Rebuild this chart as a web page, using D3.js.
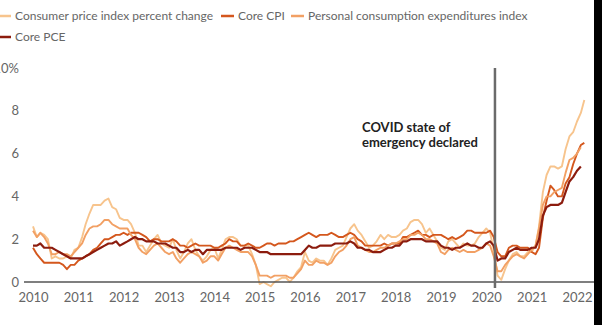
<!DOCTYPE html>
<html>
<head>
<meta charset="utf-8">
<script src="https://cdn.jsdelivr.net/npm/d3@7"></script>
<style>
  html, body { margin: 0; padding: 0; background: #fff; }
  svg { display: block; font-family: "Lato", "Open Sans", sans-serif; }
</style>
</head>
<body>
<div id="chart"></div>
<script>
// Year-over-year percent change, monthly from Jan 2010
const startMonth = "2010-01"

const cpi = [
  2.6, 2.1, 2.3, 2.2, 2.0, 1.1, 1.2, 1.1, 1.1, 1.2, 1.1, 1.5,
  1.6, 2.1, 2.7, 3.2, 3.6, 3.6, 3.6, 3.8, 3.9, 3.5, 3.4, 3.0,
  2.9, 2.9, 2.7, 2.3, 1.7, 1.7, 1.4, 1.7, 2.0, 2.2, 1.8, 1.7,
  1.6, 2.0, 1.5, 1.1, 1.4, 1.8, 2.0, 1.5, 1.2, 1.0, 1.2, 1.5,
  1.6, 1.1, 1.5, 2.0, 2.1, 2.1, 2.0, 1.7, 1.7, 1.7, 1.3, 0.8,
  -0.1, 0.0, -0.1, -0.2, 0.0, 0.1, 0.2, 0.2, 0.0, 0.2, 0.5, 0.7,
  1.4, 1.0, 0.9, 1.1, 1.0, 1.0, 0.8, 1.1, 1.5, 1.6, 1.7, 2.1,
  2.5, 2.7, 2.4, 2.2, 1.9, 1.6, 1.7, 1.9, 2.2, 2.0, 2.2, 2.1,
  2.1, 2.2, 2.4, 2.5, 2.8, 2.9, 2.9, 2.7, 2.3, 2.5, 2.2, 1.9,
  1.6, 1.5, 1.9, 2.0, 1.8, 1.6, 1.8, 1.7, 1.7, 1.8, 2.1, 2.3,
  2.5, 2.3, 1.5, 0.3, 0.1, 0.6, 1.0, 1.3, 1.4, 1.2, 1.2, 1.4,
  1.4, 1.7, 2.6, 4.2, 5.0, 5.4, 5.4, 5.3, 5.4, 6.2, 6.8, 7.0,
  7.5, 7.9, 8.5
]

const coreCpi = [
  1.6, 1.3, 1.1, 0.9, 0.9, 0.9, 0.9, 0.9, 0.8, 0.6, 0.8, 0.8,
  1.0, 1.1, 1.2, 1.3, 1.5, 1.6, 1.8, 2.0, 2.0, 2.1, 2.2, 2.2,
  2.3, 2.2, 2.3, 2.3, 2.3, 2.2, 2.1, 1.9, 2.0, 2.0, 1.9, 1.9,
  1.9, 2.0, 1.9, 1.7, 1.7, 1.6, 1.7, 1.8, 1.7, 1.7, 1.7, 1.7,
  1.6, 1.6, 1.7, 1.8, 2.0, 1.9, 1.9, 1.7, 1.7, 1.8, 1.7, 1.6,
  1.6, 1.7, 1.8, 1.8, 1.7, 1.8, 1.8, 1.8, 1.9, 1.9, 2.0, 2.1,
  2.2, 2.3, 2.2, 2.1, 2.2, 2.2, 2.2, 2.3, 2.2, 2.1, 2.1, 2.2,
  2.3, 2.2, 2.0, 1.9, 1.7, 1.7, 1.7, 1.7, 1.7, 1.8, 1.7, 1.8,
  1.8, 1.8, 2.1, 2.1, 2.2, 2.3, 2.4, 2.2, 2.2, 2.1, 2.2, 2.2,
  2.2, 2.1, 2.0, 2.1, 2.0, 2.1, 2.2, 2.4, 2.4, 2.3, 2.3, 2.3,
  2.3, 2.4, 2.1, 1.4, 1.2, 1.2, 1.6, 1.7, 1.7, 1.6, 1.6, 1.6,
  1.4, 1.3, 1.6, 3.0, 3.8, 4.5, 4.3, 4.0, 4.0, 4.6, 4.9, 5.5,
  6.0, 6.4, 6.5
]

const pce = [
  2.4, 2.1, 2.3, 2.1, 1.8, 1.3, 1.3, 1.4, 1.3, 1.3, 1.2, 1.4,
  1.6, 1.8, 2.2, 2.5, 2.6, 2.6, 2.7, 2.9, 2.9, 2.7, 2.6, 2.5,
  2.5, 2.5, 2.2, 2.0, 1.6, 1.4, 1.3, 1.5, 1.7, 1.8, 1.6, 1.4,
  1.3, 1.4, 1.1, 0.9, 1.1, 1.3, 1.4, 1.3, 1.2, 0.9, 1.0, 1.2,
  1.2, 1.0, 1.3, 1.6, 1.7, 1.6, 1.5, 1.4, 1.4, 1.4, 1.2, 0.8,
  0.3, 0.3, 0.3, 0.2, 0.3, 0.3, 0.3, 0.3, 0.2, 0.2, 0.4, 0.6,
  1.0, 0.8, 0.8, 1.0, 0.9, 0.9, 0.8, 0.9, 1.2, 1.4, 1.5, 1.7,
  2.0, 2.1, 1.7, 1.6, 1.5, 1.4, 1.4, 1.5, 1.6, 1.6, 1.7, 1.8,
  1.8, 1.9, 2.0, 2.0, 2.2, 2.2, 2.3, 2.2, 2.0, 2.0, 1.9, 1.8,
  1.4, 1.3, 1.5, 1.6, 1.5, 1.4, 1.5, 1.4, 1.4, 1.4, 1.5, 1.6,
  1.8, 1.7, 1.2, 0.5, 0.5, 0.8, 1.0, 1.2, 1.3, 1.2, 1.1, 1.3,
  1.5, 1.7, 2.5, 3.6, 4.0, 4.0, 4.2, 4.3, 4.4, 5.1, 5.7, 5.8,
  6.0, 6.3
]

const corePce = [
  1.7, 1.7, 1.8, 1.6, 1.6, 1.6, 1.5, 1.4, 1.3, 1.2, 1.1, 1.1,
  1.1, 1.1, 1.2, 1.3, 1.4, 1.5, 1.6, 1.7, 1.8, 1.8, 1.9, 1.7,
  1.8, 1.9, 2.0, 2.1, 2.0, 2.0, 1.9, 1.9, 1.9, 1.8, 1.8, 1.8,
  1.7, 1.6, 1.6, 1.4, 1.4, 1.5, 1.4, 1.5, 1.5, 1.3, 1.5, 1.5,
  1.5, 1.5, 1.5, 1.6, 1.6, 1.6, 1.6, 1.5, 1.6, 1.6, 1.6, 1.5,
  1.4, 1.4, 1.4, 1.3, 1.3, 1.3, 1.3, 1.3, 1.3, 1.3, 1.3, 1.3,
  1.5, 1.7, 1.6, 1.6, 1.7, 1.7, 1.7, 1.7, 1.8, 1.8, 1.8, 1.8,
  1.9, 1.8, 1.6, 1.6, 1.5, 1.5, 1.4, 1.4, 1.4, 1.5, 1.6, 1.6,
  1.7, 1.7, 1.9, 1.9, 2.0, 2.0, 2.0, 2.0, 1.9, 1.9, 1.9, 1.9,
  1.7, 1.6, 1.6, 1.5, 1.6, 1.6, 1.7, 1.8, 1.7, 1.7, 1.6, 1.6,
  1.8, 1.9, 1.7, 1.0, 1.1, 1.1, 1.4, 1.5, 1.6, 1.5, 1.5, 1.5,
  1.6, 1.6, 2.0, 3.1, 3.5, 3.6, 3.6, 3.6, 3.7, 4.2, 4.7, 4.9,
  5.2, 5.4
]

const seriesNames = ["Consumer price index percent change", "Core CPI", "Personal consumption expenditures index", "Core PCE"]
const seriesColors = ["#f7c48d", "#d4571d", "#f2a064", "#8c1c0e"]
const yTicks = [0, 2, 4, 6, 8, 10]
const xTickYears = d3.range(2010, 2023)
const covidDate = "2020-03-11"
const covidLabel = ["COVID state of", "emergency declared"]

const W = 602, H = 325
const svg = d3.select("#chart").append("svg").attr("width", W).attr("height", H)

const parseMonth = d3.timeParse("%Y-%m")
const start = parseMonth(startMonth)

const x = d3.scaleTime()
  .domain([new Date(2010, 0, 1), new Date(2022, 0, 1)])
  .range([33, 577])
const y = d3.scaleLinear().domain([0, 10]).range([282, 68])

// Grid lines
svg.append("g")
  .call(d3.axisLeft(y).tickValues(yTicks).tickSize(-570).tickFormat(""))
  .attr("transform", "translate(594,0)")
  .call(g => g.select(".domain").remove())
  .selectAll("line").attr("stroke", "#d0d0d0").attr("stroke-width", 1)

// Y labels (the "10%" runs off the left edge, as in the original)
svg.append("g")
  .selectAll("text")
  .data(yTicks)
  .join("text")
  .attr("x", 19)
  .attr("y", d => y(d))
  .attr("dy", "0.35em")
  .attr("text-anchor", "end")
  .attr("fill", "#666")
  .attr("font-size", 13)
  .text(d => d === 10 ? "10%" : d)

// X labels
svg.append("g")
  .attr("transform", "translate(0,290)")
  .call(d3.axisBottom(x)
    .tickValues(xTickYears.map(yr => new Date(yr, 0, 1)))
    .tickSize(0)
    .tickFormat(d3.timeFormat("%Y")))
  .call(g => g.select(".domain").remove())
  .selectAll("text")
  .attr("fill", "#666")
  .attr("font-size", 13)
  .attr("font-family", "Lato, 'Open Sans', sans-serif")

// Lines
const line = d3.line()
  .x((d, i) => x(d3.timeMonth.offset(start, i)))
  .y(d => y(d))

const allSeries = [cpi, coreCpi, pce, corePce]
allSeries.forEach((s, i) => {
  svg.append("path")
    .datum(s)
    .attr("fill", "none")
    .attr("stroke", seriesColors[i])
    .attr("stroke-width", i === 3 ? 2.2 : 1.9)
    .attr("stroke-linejoin", "round")
    .attr("d", line)
})

// Zero baseline
svg.append("line")
  .attr("x1", 24).attr("x2", 594)
  .attr("y1", y(0)).attr("y2", y(0))
  .attr("stroke", "#555").attr("stroke-width", 1.3)

// COVID marker
const cx = x(d3.isoParse(covidDate))
svg.append("line")
  .attr("x1", cx).attr("x2", cx)
  .attr("y1", y(10)).attr("y2", y(0) + 6)
  .attr("stroke", "#6b6b6b").attr("stroke-width", 2.5)

svg.append("g")
  .selectAll("text")
  .data(covidLabel)
  .join("text")
  .attr("x", 362)
  .attr("y", (d, i) => 132 + i * 15)
  .attr("font-size", 13)
  .attr("font-weight", "bold")
  .attr("fill", "#222")
  .text(d => d)

// Legend
const legendPos = [[0, 16], [223, 16], [293, 16], [0, 37]]
const legend = svg.append("g")
seriesNames.forEach((name, i) => {
  const [lx, ly] = legendPos[i]
  legend.append("line")
    .attr("x1", lx - 2).attr("x2", lx + 11)
    .attr("y1", ly).attr("y2", ly)
    .attr("stroke", seriesColors[i]).attr("stroke-width", 2.5)
  legend.append("text")
    .attr("x", lx + 15).attr("y", ly)
    .attr("dy", "0.35em")
    .attr("font-size", 12)
    .attr("fill", "#666")
    .text(name)
})

// Dark screen edge on the right
svg.append("rect").attr("x", 594).attr("y", 0).attr("width", 8).attr("height", H).attr("fill", "#000")
</script>
</body>
</html>
